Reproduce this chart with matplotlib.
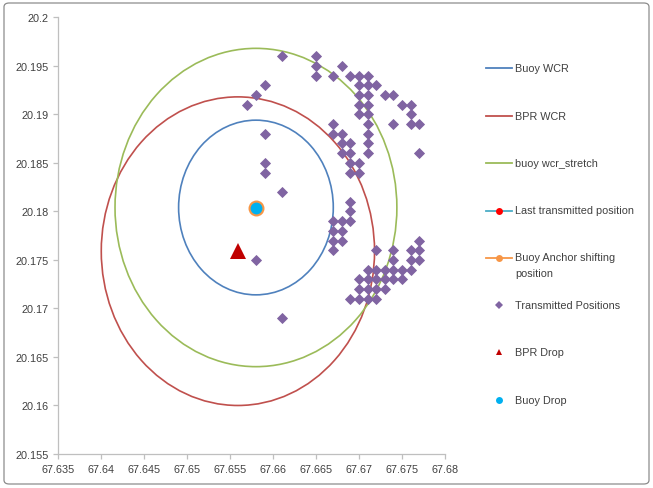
import matplotlib
matplotlib.use("Agg")
import matplotlib.pyplot as plt
from matplotlib.patches import Ellipse, FancyBboxPatch
from matplotlib.lines import Line2D

plt.rcParams['font.family'] = ['Liberation Sans', 'DejaVu Sans']

# ---------------- data ----------------
x_ticks = [67.635, 67.64, 67.645, 67.65, 67.655, 67.66, 67.665, 67.67, 67.675, 67.68]
x_tick_labels = ['67.635', '67.64', '67.645', '67.65', '67.655', '67.66', '67.665', '67.67', '67.675', '67.68']
y_ticks = [20.155, 20.16, 20.165, 20.17, 20.175, 20.18, 20.185, 20.19, 20.195, 20.2]
y_tick_labels = ['20.155', '20.16', '20.165', '20.17', '20.175', '20.18', '20.185', '20.19', '20.195', '20.2']

buoy_drop_lon = [67.658]
buoy_drop_lat = [20.1804]
bpr_drop_lon = [67.6559]
bpr_drop_lat = [20.1759]
anchor_shift_lon = [67.658]
anchor_shift_lat = [20.1804]
last_tx_lon = [67.658]
last_tx_lat = [20.1804]

buoy_wcr_radius = 0.009
bpr_wcr_radius = 0.0159
buoy_wcr_stretch_radius = 0.0164

tx_lon = [
    67.661, 67.659, 67.658, 67.657, 67.659, 67.659, 67.659, 67.661, 67.658, 67.661,
    67.665, 67.665, 67.665, 67.668, 67.667, 67.669,
    67.670, 67.670, 67.670, 67.670, 67.670,
    67.671, 67.671, 67.671, 67.671, 67.671, 67.671, 67.671, 67.671, 67.671,
    67.672, 67.673, 67.674, 67.675, 67.676, 67.676, 67.674, 67.676, 67.677, 67.677,
    67.667, 67.667, 67.668, 67.668, 67.668, 67.669, 67.669, 67.669, 67.669, 67.670, 67.670,
    67.669, 67.669, 67.669, 67.668, 67.668, 67.668, 67.667, 67.667, 67.667, 67.667,
    67.677, 67.672, 67.674, 67.676, 67.677, 67.674, 67.676, 67.677,
    67.671, 67.672, 67.673, 67.674, 67.675, 67.676,
    67.670, 67.671, 67.672, 67.673, 67.674, 67.675,
    67.670, 67.671, 67.672, 67.673,
    67.669, 67.670, 67.671, 67.672,
]
tx_lat = [
    20.196, 20.193, 20.192, 20.191, 20.188, 20.185, 20.184, 20.182, 20.175, 20.169,
    20.196, 20.195, 20.194, 20.195, 20.194, 20.194,
    20.194, 20.193, 20.192, 20.191, 20.190,
    20.194, 20.193, 20.192, 20.191, 20.190, 20.189, 20.188, 20.187, 20.186,
    20.193, 20.192, 20.192, 20.191, 20.191, 20.190, 20.189, 20.189, 20.189, 20.186,
    20.189, 20.188, 20.188, 20.187, 20.186, 20.187, 20.186, 20.185, 20.184, 20.185, 20.184,
    20.181, 20.180, 20.179, 20.179, 20.178, 20.177, 20.179, 20.178, 20.177, 20.176,
    20.177, 20.176, 20.176, 20.176, 20.176, 20.175, 20.175, 20.175,
    20.174, 20.174, 20.174, 20.174, 20.174, 20.174,
    20.173, 20.173, 20.173, 20.173, 20.173, 20.173,
    20.172, 20.172, 20.172, 20.172,
    20.171, 20.171, 20.171, 20.171,
]

legend_labels = ['Buoy WCR', 'BPR WCR', 'buoy wcr_stretch', 'Last transmitted position',
                 'Buoy Anchor shifting\nposition', 'Transmitted Positions', 'BPR Drop', 'Buoy Drop']

# ---------------- style ----------------
C_BLUE = '#4F81BD'
C_RED = '#C0504D'
C_GREEN = '#9BBB59'
C_TEAL = '#4BACC6'
C_ORANGE = '#F79646'
C_PURPLE = '#8064A2'
C_DARKRED = '#C00000'
C_CYAN = '#00B0F0'
AX_GRAY = '#BFBFBF'
TXT = '#404040'
FS = 7.8

W, H = 653, 489
fig = plt.figure(figsize=(W / 100, H / 100), dpi=100)

# chart area border
border = FancyBboxPatch((4 / W, 4 / H), 645 / W, 481 / H,
                        boxstyle="round,pad=0,rounding_size=0.008",
                        transform=fig.transFigure, fill=False,
                        edgecolor='#8C8C8C', linewidth=0.9)
fig.patches.append(border)

ax = fig.add_axes([58.3 / W, 34 / H, 386.7 / W, 436.7 / H])
ax.set_xlim(x_ticks[0], x_ticks[-1])
ax.set_ylim(y_ticks[0], y_ticks[-1])

lw = 1.2
ax.add_patch(Ellipse((buoy_drop_lon[0], buoy_drop_lat[0]), 2 * buoy_wcr_radius, 2 * buoy_wcr_radius,
                     fill=False, edgecolor=C_BLUE, linewidth=lw, zorder=2))
ax.add_patch(Ellipse((bpr_drop_lon[0], bpr_drop_lat[0]), 2 * bpr_wcr_radius, 2 * bpr_wcr_radius,
                     fill=False, edgecolor=C_RED, linewidth=lw, zorder=2))
ax.add_patch(Ellipse((buoy_drop_lon[0], buoy_drop_lat[0]), 2 * buoy_wcr_stretch_radius,
                     2 * buoy_wcr_stretch_radius,
                     fill=False, edgecolor=C_GREEN, linewidth=lw, zorder=2))

ax.plot(last_tx_lon, last_tx_lat, 'o', color='#FF0000', markersize=5, zorder=3)
ax.plot(anchor_shift_lon, anchor_shift_lat, 'o', color=C_ORANGE, markersize=11.5,
        markeredgewidth=0, zorder=3)
ax.plot(tx_lon, tx_lat, 'D', color=C_PURPLE, markersize=5, markeredgewidth=0.6,
        markeredgecolor=C_PURPLE, linestyle='none', zorder=4)
ax.plot(bpr_drop_lon, bpr_drop_lat, '^', color=C_DARKRED, markersize=12,
        markeredgewidth=0, zorder=5)
ax.plot(buoy_drop_lon, buoy_drop_lat, 'o', color=C_CYAN, markersize=8.5,
        markeredgewidth=0, zorder=6)

ax.set_xticks(x_ticks)
ax.set_xticklabels(x_tick_labels)
ax.set_yticks(y_ticks)
ax.set_yticklabels(y_tick_labels)
for s in ['top', 'right']:
    ax.spines[s].set_visible(False)
for s in ['left', 'bottom']:
    ax.spines[s].set_color(AX_GRAY)
    ax.spines[s].set_linewidth(0.9)
ax.tick_params(direction='out', length=3.5, width=0.9, color=AX_GRAY,
               labelsize=FS, labelcolor=TXT, pad=3.5)

# ---------------- legend (Excel-style, fixed spacing) ----------------
leg_y = [69, 116.5, 164, 211.5, 259, 306, 353, 400.5]
x0, x1, xt = 486, 512, 515
handles = [
    dict(color=C_BLUE, line=True, marker=None),
    dict(color=C_RED, line=True, marker=None),
    dict(color=C_GREEN, line=True, marker=None),
    dict(color=C_TEAL, line=True, marker='o', mcolor='#FF0000', ms=5),
    dict(color=C_ORANGE, line=True, marker='o', mcolor=C_ORANGE, ms=5),
    dict(color=C_PURPLE, line=False, marker='D', mcolor=C_PURPLE, ms=3.8),
    dict(color=C_DARKRED, line=False, marker='^', mcolor=C_DARKRED, ms=5),
    dict(color=C_CYAN, line=False, marker='o', mcolor=C_CYAN, ms=5),
]
for lab, py, h in zip(legend_labels, leg_y, handles):
    fy = 1 - py / H
    if h['line']:
        fig.add_artist(Line2D([x0 / W, x1 / W], [fy, fy], color=h['color'],
                              linewidth=1.3, transform=fig.transFigure))
    if h['marker']:
        fig.add_artist(Line2D([(x0 + x1) / 2 / W], [fy], marker=h['marker'],
                              color=h['mcolor'], markersize=h['ms'], markeredgewidth=0,
                              linestyle='none', transform=fig.transFigure))
    if '\n' in lab:
        fig.text(xt / W, fy + 6 / H, lab, fontsize=FS, color=TXT, va='top',
                 ha='left', linespacing=1.75)
    else:
        fig.text(xt / W, fy, lab, fontsize=FS, color=TXT, va='center', ha='left')

fig.savefig('out.png', dpi=100)
